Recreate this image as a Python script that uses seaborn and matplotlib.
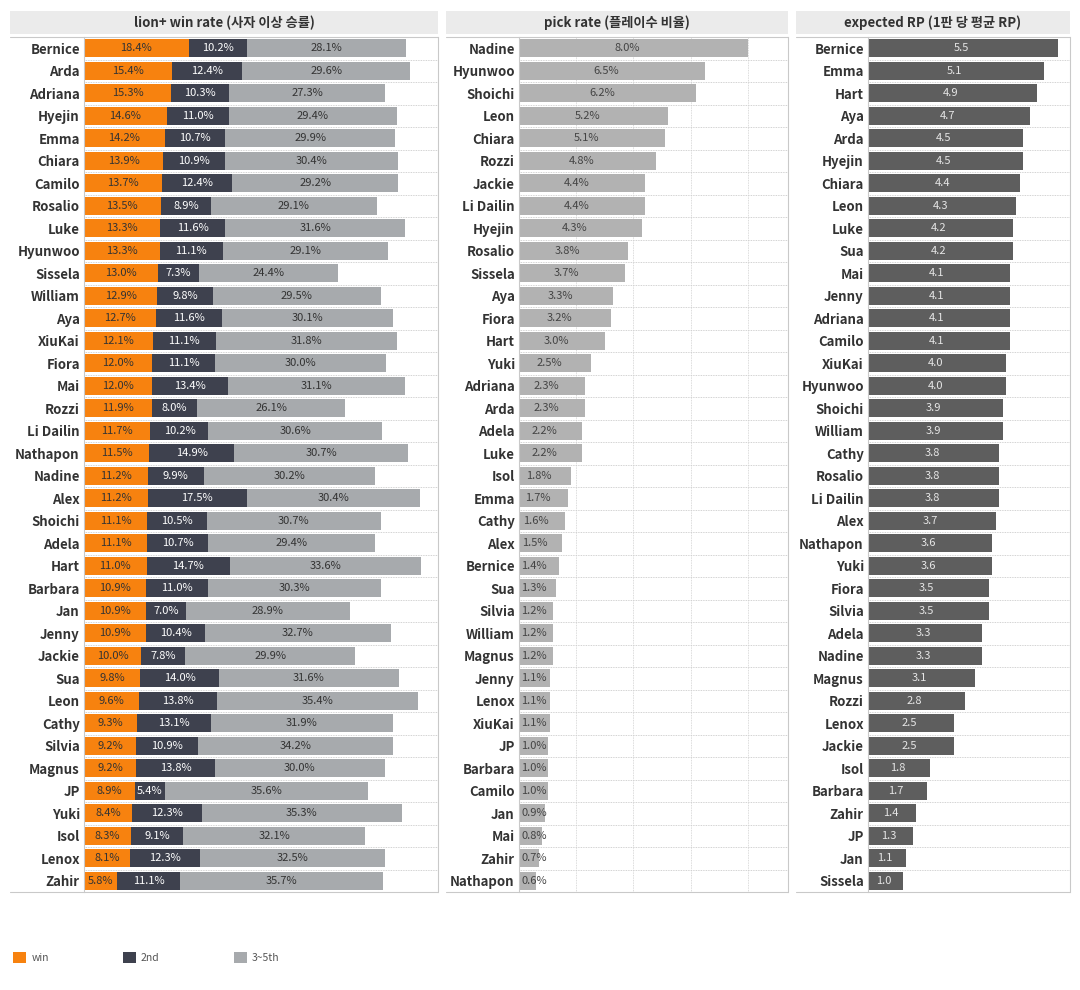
"""lion+ win rate / pick rate / expected RP per character"""

import pandas as pd
import matplotlib.pyplot as plt
from matplotlib.patches import Patch, Rectangle
from matplotlib.lines import Line2D
import seaborn as sns


# lion+ win rate panel (%)
win_names = ["Bernice", "Arda", "Adriana", "Hyejin", "Emma", "Chiara", "Camilo", "Rosalio",
             "Luke", "Hyunwoo", "Sissela", "William", "Aya", "XiuKai", "Fiora", "Mai", "Rozzi",
             "Li Dailin", "Nathapon", "Nadine", "Alex", "Shoichi", "Adela", "Hart", "Barbara",
             "Jan", "Jenny", "Jackie", "Sua", "Leon", "Cathy", "Silvia", "Magnus", "JP", "Yuki",
             "Isol", "Lenox", "Zahir"]
win_rate = [18.4, 15.4, 15.3, 14.6, 14.2, 13.9, 13.7, 13.5, 13.3, 13.3, 13.0, 12.9, 12.7, 12.1,
            12.0, 12.0, 11.9, 11.7, 11.5, 11.2, 11.2, 11.1, 11.1, 11.0, 10.9, 10.9, 10.9, 10.0,
            9.8, 9.6, 9.3, 9.2, 9.2, 8.9, 8.4, 8.3, 8.1, 5.8]
second_rate = [10.2, 12.4, 10.3, 11.0, 10.7, 10.9, 12.4, 8.9, 11.6, 11.1, 7.3, 9.8, 11.6, 11.1,
               11.1, 13.4, 8.0, 10.2, 14.9, 9.9, 17.5, 10.5, 10.7, 14.7, 11.0, 7.0, 10.4, 7.8,
               14.0, 13.8, 13.1, 10.9, 13.8, 5.4, 12.3, 9.1, 12.3, 11.1]
third_fifth_rate = [28.1, 29.6, 27.3, 29.4, 29.9, 30.4, 29.2, 29.1, 31.6, 29.1, 24.4, 29.5, 30.1,
                    31.8, 30.0, 31.1, 26.1, 30.6, 30.7, 30.2, 30.4, 30.7, 29.4, 33.6, 30.3, 28.9,
                    32.7, 29.9, 31.6, 35.4, 31.9, 34.2, 30.0, 35.6, 35.3, 32.1, 32.5, 35.7]

# pick rate panel (%)
pick_names = ["Nadine", "Hyunwoo", "Shoichi", "Leon", "Chiara", "Rozzi", "Jackie", "Li Dailin",
              "Hyejin", "Rosalio", "Sissela", "Aya", "Fiora", "Hart", "Yuki", "Adriana", "Arda",
              "Adela", "Luke", "Isol", "Emma", "Cathy", "Alex", "Bernice", "Sua", "Silvia",
              "William", "Magnus", "Jenny", "Lenox", "XiuKai", "JP", "Barbara", "Camilo", "Jan",
              "Mai", "Zahir", "Nathapon"]
pick_rate = [8.0, 6.5, 6.2, 5.2, 5.1, 4.8, 4.4, 4.4, 4.3, 3.8, 3.7, 3.3, 3.2, 3.0, 2.5, 2.3, 2.3,
             2.2, 2.2, 1.8, 1.7, 1.6, 1.5, 1.4, 1.3, 1.2, 1.2, 1.2, 1.1, 1.1, 1.1, 1.0, 1.0, 1.0,
             0.9, 0.8, 0.7, 0.6]

# expected RP panel
rp_names = ["Bernice", "Emma", "Hart", "Aya", "Arda", "Hyejin", "Chiara", "Leon", "Luke", "Sua",
            "Mai", "Jenny", "Adriana", "Camilo", "XiuKai", "Hyunwoo", "Shoichi", "William",
            "Cathy", "Rosalio", "Li Dailin", "Alex", "Nathapon", "Yuki", "Fiora", "Silvia",
            "Adela", "Nadine", "Magnus", "Rozzi", "Lenox", "Jackie", "Isol", "Barbara", "Zahir",
            "JP", "Jan", "Sissela"]
expected_rp = [5.5, 5.1, 4.9, 4.7, 4.5, 4.5, 4.4, 4.3, 4.2, 4.2, 4.1, 4.1, 4.1, 4.1, 4.0, 4.0,
               3.9, 3.9, 3.8, 3.8, 3.8, 3.7, 3.6, 3.6, 3.5, 3.5, 3.3, 3.3, 3.1, 2.8, 2.5, 2.5,
               1.8, 1.7, 1.4, 1.3, 1.1, 1.0]

panel_titles = ["lion+ win rate (사자 이상 승률)", "pick rate (플레이수 비율)",
                "expected RP (1판 당 평균 RP)"]
legend_labels = ["win", "2nd", "3~5th"]

ORANGE = "#f7820f"
DARK = "#3e414e"
GRAY = "#a7aaad"
PICK_GRAY = "#b2b2b2"
RP_GRAY = "#5e5e5e"
FRAME = "#c9c9c9"
TEXT = "#333333"

sns.set_style("white")
plt.rcParams["font.family"] = ["Noto Sans CJK KR", "DejaVu Sans"]

W, H = 1080, 990
fig = plt.figure(figsize=(W / 100, H / 100), dpi=100)

TOP, BOTTOM = 37, 892
BAR_W = 0.78
VAL_FS = 8


def px_axes(x0, x1):
    return fig.add_axes([x0 / W, 1 - BOTTOM / H, (x1 - x0) / W, (BOTTOM - TOP) / H])


def style_panel(ax, panel_x0, panel_x1, title, xmax):
    # header band
    fig.patches.append(Rectangle((panel_x0 / W, 1 - 34 / H), (panel_x1 - panel_x0) / W, 23 / H,
                                 transform=fig.transFigure, facecolor="#ebebeb",
                                 edgecolor="none", zorder=0))
    fig.text((panel_x0 + panel_x1) / 2 / W, 1 - 22.5 / H, title, ha="center", va="center",
             fontsize=9.5, fontweight="bold", color=TEXT)
    for yy in (TOP, BOTTOM):
        fig.add_artist(Line2D([panel_x0 / W, panel_x1 / W], [1 - yy / H, 1 - yy / H],
                              color=FRAME, lw=0.8))

    n = len(ax.get_yticks())
    ax.set_xlim(0, xmax)
    ax.set_ylim(n - 0.5, -0.5)
    ax.set_xlabel("")
    ax.set_ylabel("")
    ax.set_xticks([])
    for side in ("top", "bottom"):
        ax.spines[side].set_visible(False)
    for side in ("left", "right"):
        ax.spines[side].set_color(FRAME)
        ax.spines[side].set_linewidth(0.8)
    for i in range(n - 1):
        ax.axhline(i + 0.5, color="#c4c4c4", ls=(0, (1, 1)), lw=0.6, zorder=0)
    ax.tick_params(axis="y", length=0, pad=3, labelsize=9.5, labelcolor=TEXT)
    for lbl in ax.get_yticklabels():
        lbl.set_fontweight("bold")


# ---- panel 1: stacked win / 2nd / 3~5th
win_df = pd.DataFrame({"name": win_names, "win": win_rate, "second": second_rate,
                       "rest": third_fifth_rate})
win_df["top2"] = win_df["win"] + win_df["second"]
win_df["total"] = win_df["top2"] + win_df["rest"]

ax1 = px_axes(84, 438)
for col, colour in (("total", GRAY), ("top2", DARK), ("win", ORANGE)):
    sns.barplot(data=win_df, x=col, y="name", order=win_names, orient="h", color=colour,
                saturation=1, width=BAR_W, linewidth=0, ax=ax1)
style_panel(ax1, 10, 438, panel_titles[0], 62.3)
for i, row in win_df.iterrows():
    ax1.text(row["win"] / 2, i, f"{row['win']:.1f}%", ha="center", va="center",
             fontsize=VAL_FS, color=TEXT)
    ax1.text(row["win"] + row["second"] / 2, i, f"{row['second']:.1f}%", ha="center",
             va="center", fontsize=VAL_FS, color="white")
    ax1.text(row["top2"] + row["rest"] / 2, i, f"{row['rest']:.1f}%", ha="center",
             va="center", fontsize=VAL_FS, color=TEXT)

# ---- panel 2: pick rate
pick_df = pd.DataFrame({"name": pick_names, "pick": pick_rate})
ax2 = px_axes(519, 788)
sns.barplot(data=pick_df, x="pick", y="name", order=pick_names, orient="h", color=PICK_GRAY,
            saturation=1, width=BAR_W, linewidth=0, ax=ax2)
style_panel(ax2, 446, 788, panel_titles[1], 9.4)
for v in (2, 4, 6, 8):
    ax2.axvline(v, color="#cfcfcf", ls=(0, (1, 1)), lw=0.6, zorder=0)
for i, v in enumerate(pick_rate):
    ax2.text(max(v / 2 - 0.2, 0.52), i, f"{v:.1f}%", ha="center", va="center",
             fontsize=VAL_FS, color="#444444")

# ---- panel 3: expected RP
rp_df = pd.DataFrame({"name": rp_names, "rp": expected_rp})
ax3 = px_axes(868, 1070)
sns.barplot(data=rp_df, x="rp", y="name", order=rp_names, orient="h", color=RP_GRAY,
            saturation=1, width=BAR_W, linewidth=0, ax=ax3)
style_panel(ax3, 796, 1070, panel_titles[2], 5.85)
for i, v in enumerate(expected_rp):
    ax3.text(max(v / 2 - 0.05, 0.4), i, f"{v:.1f}", ha="center", va="center",
             fontsize=VAL_FS, color="#e6e6e6")

# ---- legend
handles = [Patch(facecolor=c, edgecolor="none", label=l)
           for c, l in zip((ORANGE, DARK, GRAY), legend_labels)]
fig.legend(handles=handles, loc="upper left", bbox_to_anchor=(13 / W, 1 - 952 / H), ncol=3,
           frameon=False, fontsize=7.5, handlelength=1.25, handleheight=1.25,
           handletextpad=0.5, columnspacing=7.1, borderaxespad=0, borderpad=0,
           labelcolor="#555555")

fig.savefig("out.png", dpi=100, facecolor="white")
